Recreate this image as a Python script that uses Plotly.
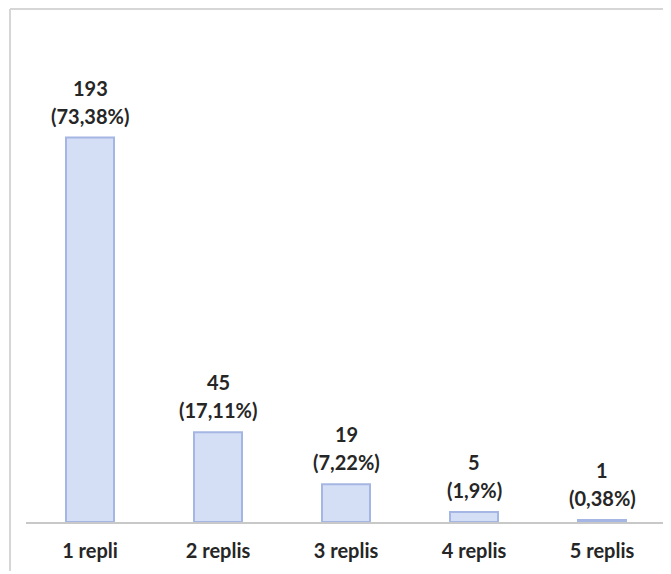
import plotly.graph_objects as go

categories = ["1 repli", "2 replis", "3 replis", "4 replis", "5 replis"]
counts = [193, 45, 19, 5, 1]
percents = ["73,38%", "17,11%", "7,22%", "1,9%", "0,38%"]

FONT = "Lato"
TXT = "#262626"
FS = 20

fig = go.Figure()
fig.add_trace(go.Bar(
    x=categories, y=counts,
    marker=dict(color="#d4def5", line=dict(color="#a6b6e4", width=2)),
    hoverinfo="x+y",
))

for c, v, p in zip(categories, counts, percents):
    fig.add_annotation(x=c, y=v, text="<b>%d</b>" % v, showarrow=False,
                       yanchor="middle", yshift=50,
                       font=dict(family=FONT, size=FS, color=TXT))
    fig.add_annotation(x=c, y=v, text="<b>(%s)</b>" % p, showarrow=False,
                       yanchor="middle", yshift=22,
                       font=dict(family=FONT, size=FS, color=TXT))

# page has an 8px body margin; figure coordinates are page coords minus 8
W, H = 663, 566
ml, mr, mt, mb = 18, 5, 12, 52
pw, ph = W - ml - mr, H - mt - mb

def px_x(px):
    return (px - ml) / pw

def px_y(py):
    return (H - mb - py) / ph

border = "#d6d6d6"
fig.add_shape(type="line", xref="paper", yref="paper",
              x0=px_x(2), x1=px_x(680), y0=px_y(1), y1=px_y(1),
              line=dict(color=border, width=2))
fig.add_shape(type="line", xref="paper", yref="paper",
              x0=px_x(2), x1=px_x(2), y0=px_y(1), y1=px_y(563),
              line=dict(color=border, width=2))

fig.update_layout(
    width=W, height=H,
    margin=dict(l=ml, r=mr, t=mt, b=mb),
    paper_bgcolor="white", plot_bgcolor="white",
    bargap=0.625,
    showlegend=False,
    font=dict(family=FONT, color=TXT),
    xaxis=dict(showline=True, linecolor="#c8c8c8", linewidth=1.5,
               tickfont=dict(family=FONT, size=FS, color=TXT),
               ticks="", ticklabelstandoff=10, showgrid=False,
               tickprefix="<b>", ticksuffix="</b>"),
    yaxis=dict(visible=False, range=[0, 252], showgrid=False, zeroline=False),
)

fig.write_html("out.html")
